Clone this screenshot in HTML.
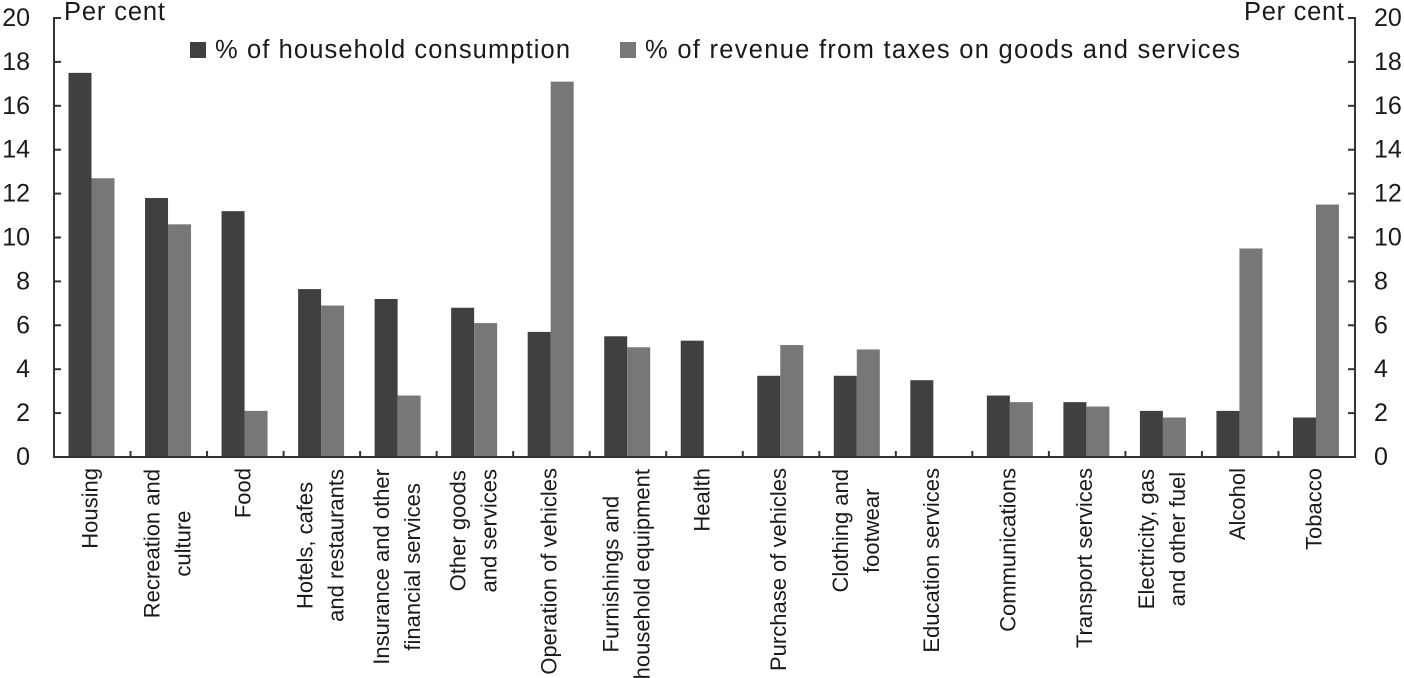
<!DOCTYPE html>
<html lang="en">
<head>
<meta charset="utf-8">
<title>Household consumption and tax revenue</title>
<style>
html,body{margin:0;padding:0;background:#fff;width:1404px;height:678px;overflow:hidden}
svg{display:block}
text{font-family:"Liberation Sans",sans-serif;fill:#1a1a1a}
</style>
</head>
<body>
<svg id="chart" xmlns="http://www.w3.org/2000/svg" width="1404" height="678" viewBox="0 0 1404 678">
<rect x="190" y="42" width="16" height="16" fill="#404040"/>
<text x="215" y="58" font-size="25.5" textLength="355" lengthAdjust="spacing">% of household consumption</text>
<rect x="620" y="42" width="16" height="16" fill="#777777"/>
<text x="645" y="58" font-size="25.5" textLength="595" lengthAdjust="spacing">% of revenue from taxes on goods and services</text>
<text x="64" y="20" font-size="25.5" textLength="101" lengthAdjust="spacing">Per cent</text>
<text x="1244" y="20" font-size="25.5" textLength="100" lengthAdjust="spacing">Per cent</text>
</svg>
<script>
const categories = [
  ["Housing"],
  ["Recreation and", "culture"],
  ["Food"],
  ["Hotels, cafes", "and restaurants"],
  ["Insurance and other", "financial services"],
  ["Other goods", "and services"],
  ["Operation of vehicles"],
  ["Furnishings and", "household equipment"],
  ["Health"],
  ["Purchase of vehicles"],
  ["Clothing and", "footwear"],
  ["Education services"],
  ["Communications"],
  ["Transport services"],
  ["Electricity, gas", "and other fuel"],
  ["Alcohol"],
  ["Tobacco"]
];
const consumptionValues = [17.5, 11.8, 11.2, 7.65, 7.2, 6.8, 5.7, 5.5, 5.3, 3.7, 3.7, 3.5, 2.8, 2.5, 2.1, 2.1, 1.8];
const revenueValues = [12.7, 10.6, 2.1, 6.9, 2.8, 6.1, 17.1, 5.0, 0, 5.1, 4.9, 0, 2.5, 2.3, 1.8, 9.5, 11.5];
const yTickLabels = [0, 2, 4, 6, 8, 10, 12, 14, 16, 18, 20];

const svg = document.getElementById('chart');
const NS = 'http://www.w3.org/2000/svg';
const plotLeft = 54, plotRight = 1355, plotBottom = 457, plotTop = 18, yMax = 20;
const catWidth = (plotRight - plotLeft) / categories.length;
const barWidth = 23, barOffset = 14.5;
const xScale = function (i) { return plotLeft + catWidth * i; };
const yScale = function (v) { return plotBottom - (v / yMax) * (plotBottom - plotTop); };

function make(tag, attrs) {
  const el = document.createElementNS(NS, tag);
  Object.keys(attrs).forEach(function (k) { el.setAttribute(k, attrs[k]); });
  svg.appendChild(el);
  return el;
}

categories.forEach(function (c, i) {
  const x0 = xScale(i) + barOffset;
  const y1 = yScale(consumptionValues[i]);
  const b1 = make('rect', { x: x0, y: y1, width: barWidth, height: plotBottom - y1, fill: '#404040' });
  
  
  const y2 = yScale(revenueValues[i]);
  const b2 = make('rect', { x: x0 + barWidth, y: y2, width: barWidth, height: plotBottom - y2, fill: '#777777' });
  
  
});

const lineStyle = { stroke: '#333333', 'stroke-width': 2, fill: 'none' };
const axisL = make('line', Object.assign({ x1: plotLeft, x2: plotLeft, y1: plotTop - 1, y2: plotBottom + 1 }, lineStyle));


const axisR = make('line', Object.assign({ x1: plotRight, x2: plotRight, y1: plotTop - 1, y2: plotBottom + 1 }, lineStyle));


const axisB = make('line', Object.assign({ x1: plotLeft, x2: plotRight, y1: plotBottom, y2: plotBottom }, lineStyle));



yTickLabels.forEach(function (v) {
  const y = yScale(v);
  const t1 = make('line', Object.assign({ x1: plotLeft, x2: plotLeft + 7, y1: y, y2: y }, lineStyle));
  
  
  const t2 = make('line', Object.assign({ x1: plotRight - 7, x2: plotRight, y1: y, y2: y }, lineStyle));
  
  
  const l1 = make('text', { x: 30, y: y + 8, 'font-size': 25, 'text-anchor': 'end' });
  l1.textContent = v;
  
  
  const l2 = make('text', { x: 1374, y: y + 8, 'font-size': 25 });
  l2.textContent = v;
  
  
});

categories.forEach(function (c, i) {
  if (i > 0) {
    const x = xScale(i);
    const t = make('line', Object.assign({ x1: x, x2: x, y1: plotBottom - 6, y2: plotBottom }, lineStyle));
    
    
  }
  const cx = xScale(i + 0.5);
  const two = c.length > 1;
  const labels = c.map(function (line, j) {
    const bx = two ? cx + (j === 0 ? -15.5 : 15.5) + 6 : cx + 5;
    const el = make('text', { 'font-size': 22, 'text-anchor': 'middle' });
    el.textContent = line;
    
    
    return { el: el, bx: bx };
  });
  const longest = Math.max.apply(null, labels.map(function (o) { return o.el.getComputedTextLength(); }));
  const centerY = (two ? 469 : 468) + longest / 2;
  labels.forEach(function (o) {
    o.el.setAttribute('transform', 'translate(' + o.bx + ' ' + centerY + ') rotate(-90)');
  });
});
</script>
</body>
</html>
